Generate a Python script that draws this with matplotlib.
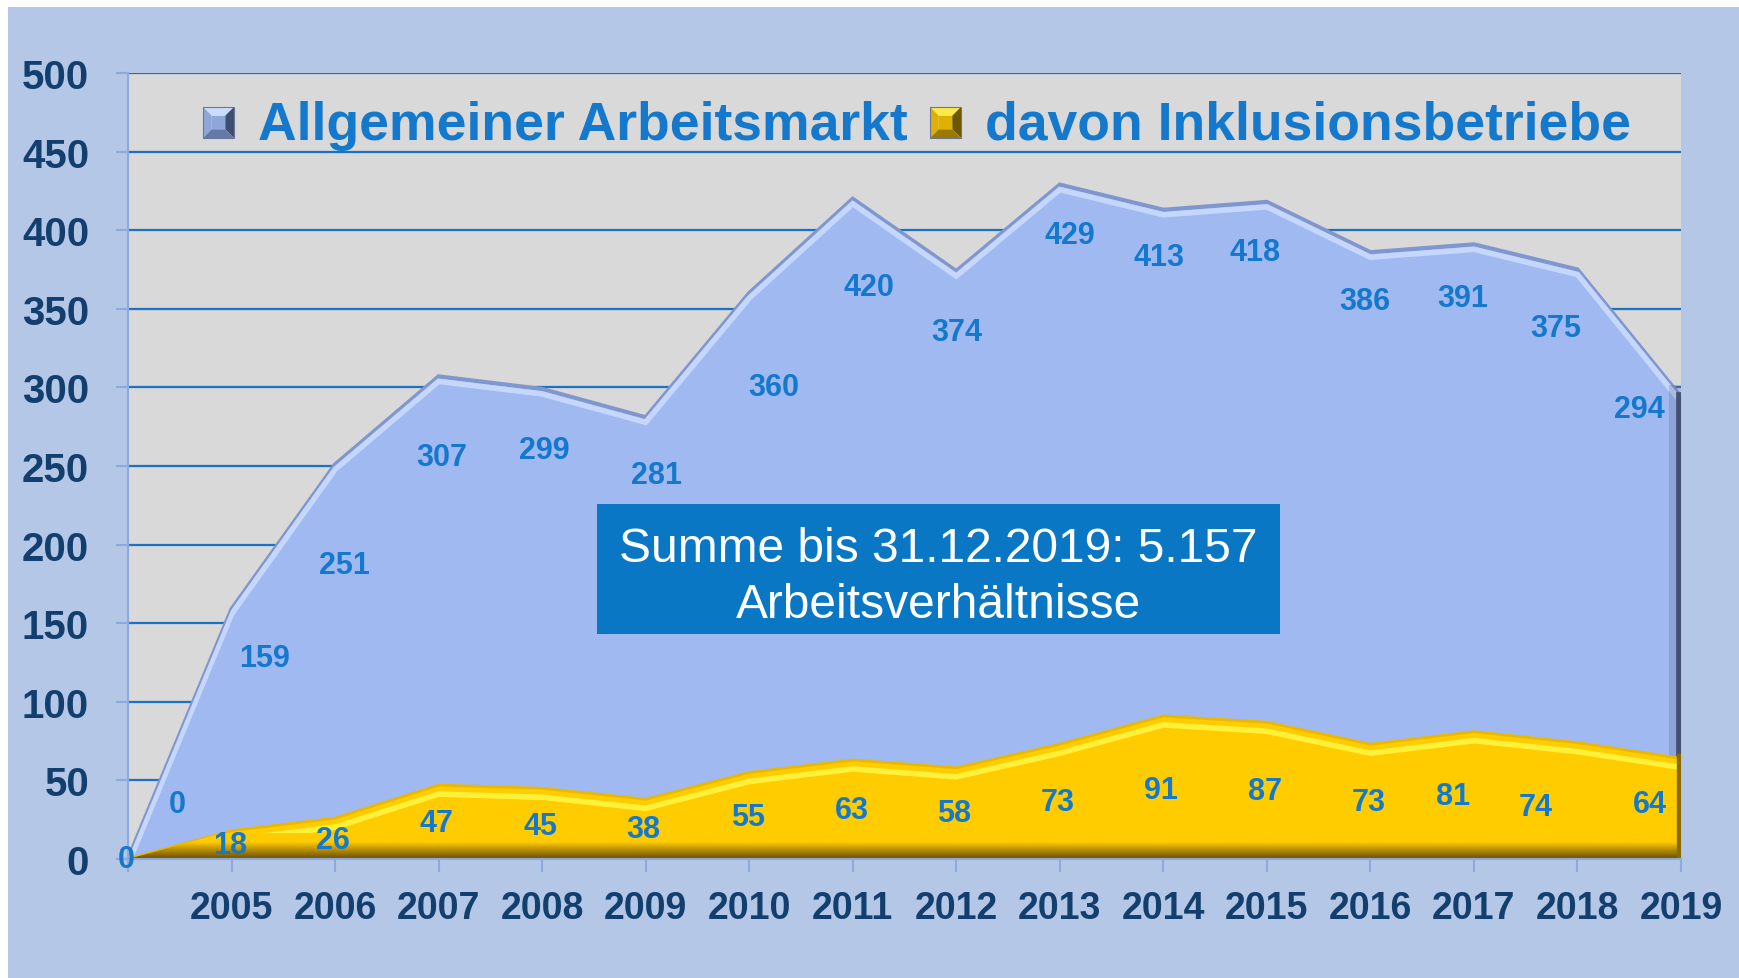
import numpy as np
import matplotlib.pyplot as plt
from matplotlib import transforms
from matplotlib.patches import Rectangle, Polygon
from matplotlib.colors import LinearSegmentedColormap

# chart values
categories = ['', '2005', '2006', '2007', '2008', '2009', '2010', '2011', '2012',
              '2013', '2014', '2015', '2016', '2017', '2018', '2019']
allgemein = [0, 159, 251, 307, 299, 281, 360, 420, 374, 429, 413, 418, 386, 391, 375, 294]
inklusion = [0, 18, 26, 47, 45, 38, 55, 63, 58, 73, 91, 87, 73, 81, 74, 64]
y_ticks = list(range(0, 501, 50))
legend_names = ['Allgemeiner Arbeitsmarkt', 'davon Inklusionsbetriebe']
box_lines = ['Summe bis 31.12.2019: 5.157', 'Arbeitsverhältnisse']

# where the data labels sit relative to their point (data units)
allg_dx = [0.48, 0.32, 0.09, 0.03, 0.02, 0.10, 0.24, 0.16, 0.0, 0.1, -0.04, -0.11, -0.05, -0.11, -0.21, -0.4]
allg_dy = [35, -31, -64, -51, -39, -37, -60, -56, -39, -32, -30, -32, -31, -34, -37, -8]
inkl_dx = [-0.02, -0.01, -0.02, -0.02, -0.02, -0.02, -0.01, -0.01, -0.02, -0.02, -0.02, -0.02, -0.02, -0.2, -0.4, -0.3]
inkl_dy = [0, -9, -14, -24, -24, -19, -28, -32, -29, -37, -47, -44, -37, -41, -41, -29]

navy = '#133F6E'
label_blue = '#1479CC'
light_axis = '#8EA9DB'

plt.rcParams['font.family'] = ['Liberation Sans', 'DejaVu Sans']

fig = plt.figure(figsize=(17.4, 9.79), dpi=100)
fig.patch.set_facecolor('white')
fig.patches.append(Rectangle((8 / 1740, 0), 1, 1 - 8 / 979, transform=fig.transFigure,
                             facecolor='#B4C7E7', edgecolor='none', zorder=-10))

ax = fig.add_axes([128 / 1740, 119 / 979, 1553 / 1740, 786 / 979])
ax.set_facecolor('#D9D9D9')
x = np.arange(len(categories))

ax.set_yticks(y_ticks, labels=[str(v) for v in y_ticks], fontsize=29,
              fontweight='bold', color=navy)
ax.set_xticks(x, labels=categories, fontsize=27, fontweight='bold', color=navy)
ax.tick_params(axis='y', length=9, width=1.5, color=light_axis, pad=19)
ax.tick_params(axis='x', length=9, width=1.5, color=light_axis, pad=13)
ax.grid(axis='y', color='#1A72C4', lw=1.6)
ax.set_axisbelow(True)
for side in ['top', 'right']:
    ax.spines[side].set_visible(False)
for side in ['left', 'bottom']:
    ax.spines[side].set_color(light_axis)
    ax.spines[side].set_linewidth(1.5)
    ax.spines[side].set_zorder(8)

def shifted(dy_px):
    return ax.transData + transforms.ScaledTranslation(0, dy_px / 100, fig.dpi_scale_trans)

def area_outline(values):
    patch = Polygon(list(zip(x, values)) + [(x[-1], 0), (0, 0)], closed=True,
                    facecolor='none', edgecolor='none')
    ax.add_patch(patch)
    return patch

# blue area with a bevelled top edge
ax.fill_between(x, 0, allgemein, color='#A0B9F1', lw=0, zorder=2)
blue_clip = area_outline(allgemein)
ax.plot(x, allgemein, color='#8096CF', lw=3, zorder=3, solid_joinstyle='miter')
hl, = ax.plot(x, allgemein, color='#C6D7FD', lw=4, zorder=3, transform=shifted(-5),
              solid_joinstyle='miter')
hl.set_clip_path(blue_clip)
ax.plot([x[-1], x[-1]], [0, allgemein[-1]], color='#3D4A6A', lw=7, zorder=3)
ax.plot([x[-1], x[-1]], [0, allgemein[-1]], color='#5A6890', lw=18, alpha=0.25, zorder=3)

# yellow area, highlight and dark bottom band
ax.fill_between(x, 0, inklusion, color='#FFCC00', lw=0, zorder=4)
yellow_clip = area_outline(inklusion)
ax.plot(x, inklusion, color='#EBB800', lw=2, zorder=5, solid_joinstyle='miter')
yl, = ax.plot(x, inklusion, color='#FFF03A', lw=4, zorder=5, transform=shifted(-9),
              solid_joinstyle='miter')
yl.set_clip_path(yellow_clip)
band = LinearSegmentedColormap.from_list('band', ['#6A4E00', '#B38A00', '#FFCC00', '#FFCC00'])
grad = ax.imshow(np.linspace(0, 1, 100).reshape(-1, 1), cmap=band, origin='lower',
                 extent=(0, x[-1], 0, 16), aspect='auto', zorder=5.5)
grad.set_clip_path(yellow_clip)
ax.plot([x[-1], x[-1]], [0, inklusion[-1]], color='#8A6A00', lw=6, zorder=5.6)
ax.set_xlim(0, len(categories) - 1)
ax.set_ylim(0, 500)

# data labels
for i in range(len(x)):
    ax.text(x[i] + allg_dx[i], allgemein[i] + allg_dy[i], str(allgemein[i]), fontsize=22,
            fontweight='bold', color=label_blue, ha='center', va='center', zorder=7)
    ax.text(x[i] + inkl_dx[i], inklusion[i] + inkl_dy[i], str(inklusion[i]), fontsize=22,
            fontweight='bold', color=label_blue, ha='center', va='center', zorder=9,
            clip_on=False)

# legend, drawn by hand
def bevel_square(x0, y0, size, light, mid, dark, darker):
    w = size / 1740
    h = size / 979
    x0 = x0 / 1740
    y0 = 1 - y0 / 979 - h
    ix, iy = w * 0.28, h * 0.28
    c = dict(transform=fig.transFigure, edgecolor='none')
    outer = [(x0, y0), (x0 + w, y0), (x0 + w, y0 + h), (x0, y0 + h)]
    inner = [(x0 + ix, y0 + iy), (x0 + w - ix, y0 + iy), (x0 + w - ix, y0 + h - iy), (x0 + ix, y0 + h - iy)]
    fig.patches.append(Polygon([outer[3], outer[2], inner[2], inner[3]], facecolor=light, **c))
    fig.patches.append(Polygon([outer[0], outer[3], inner[3], inner[0]], facecolor=mid, **c))
    fig.patches.append(Polygon([outer[1], outer[2], inner[2], inner[1]], facecolor=dark, **c))
    fig.patches.append(Polygon([outer[0], outer[1], inner[1], inner[0]], facecolor=darker, **c))
    fig.patches.append(Polygon(inner, facecolor=mid, **c))
    fig.patches.append(Rectangle((x0, y0), w, h, facecolor='none', edgecolor='#6A7896',
                                 lw=0.8, transform=fig.transFigure))

bevel_square(203, 108, 31, '#C9DBFF', '#8FA6DA', '#3F4D70', '#6379A8')
bevel_square(930, 108, 31, '#FFE84A', '#E0B000', '#6E5500', '#9C7A00')
fig.text(258 / 1740, 1 - 140 / 979, legend_names[0], fontsize=38.5, fontweight='bold',
         color=label_blue, va='baseline')
fig.text(985 / 1740, 1 - 140 / 979, legend_names[1], fontsize=38.5, fontweight='bold',
         color=label_blue, va='baseline')

# summary box
fig.patches.append(Rectangle((597 / 1740, 1 - 635 / 979), 683 / 1740, 130 / 979,
                             transform=fig.transFigure, facecolor='#0977C4',
                             edgecolor='none', zorder=10))
fig.text(938.5 / 1740, 1 - 562 / 979, box_lines[0], fontsize=34.5, color='white',
         ha='center', va='baseline', zorder=11)
fig.text(938.5 / 1740, 1 - 618 / 979, box_lines[1], fontsize=34.5, color='white',
         ha='center', va='baseline', zorder=11)

fig.savefig('out.png', dpi=100)
